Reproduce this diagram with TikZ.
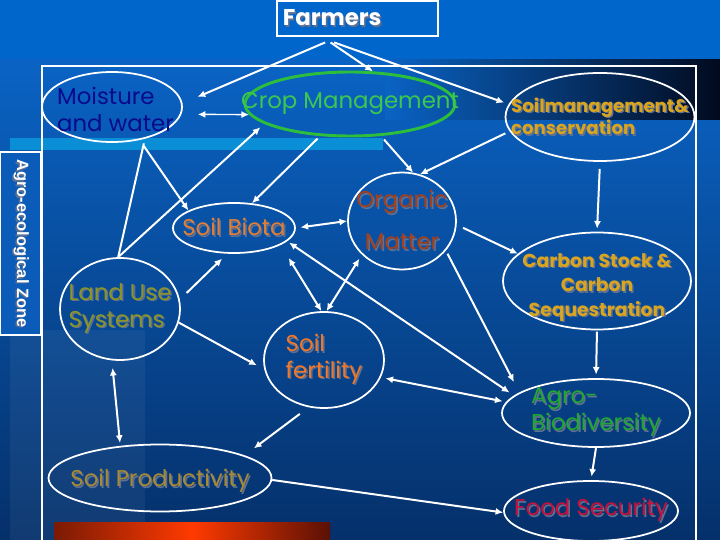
\documentclass[tikz,border=0pt]{standalone}
\usepackage{fontspec}
\usepackage{xcolor}
\usepackage{tikz}
\usetikzlibrary{arrows.meta,shapes.geometric}
\newfontfamily\comic{Poppins}
\newfontfamily\zonefont{Liberation Sans}
\definecolor{bgtop}{HTML}{0066CC}
\definecolor{bgmid}{HTML}{0A63C4}
\definecolor{bgbot}{HTML}{05306A}
\definecolor{bandc}{HTML}{020A1E}
\definecolor{strip}{HTML}{0A8ED6}
\definecolor{zonec}{HTML}{0B5BB8}
\definecolor{barl}{HTML}{7A1A05}
\definecolor{barm}{HTML}{FF3A00}
\definecolor{barr}{HTML}{5A1005}
\definecolor{moistc}{HTML}{0A0A8C}
\definecolor{cropc}{HTML}{2DBE3C}
\definecolor{croptc}{HTML}{3CC850}
\definecolor{goldc}{HTML}{D9A521}
\definecolor{biotac}{HTML}{E07E36}
\definecolor{orgc}{HTML}{A5401C}
\definecolor{landc}{HTML}{8C9628}
\definecolor{fertc}{HTML}{F07828}
\definecolor{agroc}{HTML}{22A832}
\definecolor{prodc}{HTML}{A68A34}
\definecolor{foodc}{HTML}{C8103C}
\definecolor{shade}{HTML}{5F7090}
\newcommand\sh[1]{\makebox[0pt][l]{\kern1.3pt\raisebox{-1.3pt}{\textcolor{shade}{#1}}}#1}

\begin{document}
\begin{tikzpicture}[x=0.03cm,y=-0.03cm,>={Latex[length=6.5pt,width=6pt]},
  el/.style={ellipse,draw=white,line width=1.5pt,inner sep=0pt},
  tx/.style={font=\comic\fontsize{19.5}{23}\selectfont},
  tb/.style={font=\comic\bfseries\fontsize{15.5}{19}\selectfont},
  ar/.style={white,line width=1.7pt}]
\useasboundingbox (0,0) rectangle (720,540);
\clip (0,0) rectangle (720,540);
\fill[bgtop] (0,0) rectangle (720,60);
\shade[top color=bgmid,bottom color=bgbot] (0,60) rectangle (720,540);
\shade[left color=bgmid,right color=bandc] (385,60) rectangle (720,120);
\fill[white,opacity=.05] (10,330) rectangle (145,540);
\fill[strip] (10,138) rectangle (383,150);
\shade[left color=barl,right color=barr,middle color=barm] (54,522) rectangle (330,545);
\draw[white,line width=1.3pt] (42,66) rectangle (696,560);
\node[draw=white,line width=1pt,fill=zonec,rotate=-90,minimum width=5.49cm,minimum height=1.23cm,
  text=white,font=\zonefont\bfseries\fontsize{14}{16}\selectfont] (zone) at (20.5,243.5) {\sh{Agro-ecological Zone}};
\node[draw=white,line width=1pt,minimum width=4.83cm,minimum height=1.05cm,inner xsep=5pt,text width=4.48cm,
  align=left,text=white,font=\comic\bfseries\fontsize{19.5}{22}\selectfont] (farm) at (357.5,18.5) {\sh{Farmers}};

\node[el,minimum width=4.2cm,minimum height=2.1cm,
  label={[tx,text=moistc,align=left,xshift=3pt,yshift=-2pt]center:{Moisture\\and water}}] (moist) at (112,107) {};
\node[el,draw=cropc,line width=2.5pt,minimum width=6.3cm,minimum height=1.92cm,
  label={[tx,text=croptc]center:{Crop Management}}] (crop) at (350,104) {};
\node[el,minimum width=5.67cm,minimum height=2.64cm,
  label={[tb,text=goldc,align=left]center:{\sh{Soilmanagement\&}\\\sh{conservation}}}] (soilm) at (600,117) {};
\node[el,minimum width=3.66cm,minimum height=1.5cm,
  label={[tx,text=biotac]center:{\sh{Soil Biota}}}] (biota) at (234,228) {};
\node[el,minimum width=3.24cm,minimum height=2.91cm,
  label={[font=\comic\fontsize{19.5}{36}\selectfont,text=orgc,align=center]center:{\sh{Organic}\\\sh{Matter}}}] (organic) at (402,221) {};
\node[el,minimum width=3.6cm,minimum height=3.06cm,
  label={[tx,text=landc,align=left]center:{\sh{Land Use}\\\sh{Systems}}}] (land) at (120,309) {};
\node[el,minimum width=3.6cm,minimum height=2.88cm,
  label={[tx,text=fertc,align=left]center:{\sh{Soil}\\\sh{fertility}}}] (fert) at (324,360) {};
\node[el,minimum width=5.64cm,minimum height=2.91cm,
  label={[tb,text=goldc,align=center,yshift=-6pt,font=\comic\bfseries\fontsize{16}{21}\selectfont]center:{\sh{Carbon Stock \&}\\\sh{Carbon}\\\sh{Sequestration}}}] (carbon) at (597,281) {};
\node[el,minimum width=5.64cm,minimum height=2.04cm,
  label={[tx,text=agroc,align=left]center:{\sh{Agro-}\\\sh{Biodiversity}}}] (agro) at (596,413) {};
\node[el,minimum width=6.69cm,minimum height=2.01cm,
  label={[tx,text=prodc,yshift=-3pt]center:{\sh{Soil Productivity}}}] (prod) at (160,478) {};
\node[el,minimum width=5.22cm,minimum height=1.8cm,
  label={[tx,text=foodc]center:{\sh{Food Security}}}] (food) at (591,511) {};

\draw[ar,->,shorten >=14pt] ([xshift=-27.6pt,yshift=-5pt]farm.south) -- (moist.3);
\draw[ar,->] ([xshift=-23pt,yshift=-5pt]farm.south) -- (crop.55);
\draw[ar,->,shorten >=4pt] ([xshift=-20pt,yshift=-5pt]farm.south) -- (soilm.172);
\draw[ar,<->,line width=1.2pt,shorten <=14pt] (moist.-6) -- (crop.186);
\draw[ar,shorten <=4pt] (moist.-44) -- (land.92);
\draw[ar,->,shorten <=6pt] (moist.-50) -- (biota.159);
\draw[ar,->,shorten >=4.4pt] (land.92) -- (crop.193);
\draw[ar,->,shorten <=3pt] (crop.227) -- (biota.54);
\draw[ar,->,shorten <=4pt] (crop.-46) -- (organic.77);
\draw[ar,->,shorten <=4pt] (soilm.189) -- (organic.69);
\draw[ar,->,shorten <=6pt,shorten >=2.5pt] (soilm.south) -- (carbon.north);
\draw[ar,<->,shorten <=4pt] (biota.east) -- (organic.west);
\draw[ar,->,shorten <=8pt,shorten >=6pt] (land.9) -- (biota.255);
\draw[ar,->,shorten >=7.3pt] (land.-13) -- (fert.189);
\draw[ar,<->,shorten >=13pt] (fert.93) -- (biota.-20);
\draw[ar,<->,shorten >=4pt] (fert.87) -- (organic.220);
\draw[ar,<->,shorten <=2pt,shorten >=4.5pt] (biota.-14) -- (agro.168);
\draw[ar,->,shorten <=3pt,shorten >=10pt] (organic.-34) -- (agro.165);
\draw[ar,->,shorten <=6pt] (organic.-4) -- (carbon.161);
\draw[ar,<->,shorten <=4pt,shorten >=3pt] (fert.-17) -- (agro.173);
\draw[ar,->,shorten <=9.4pt,shorten >=10pt] (fert.252) -- (prod.15);
\draw[ar,<->,shorten <=6.4pt,shorten >=2.5pt] (land.261) -- (prod.141);
\draw[ar,->] (prod.-1) -- (food.181);
\draw[ar,->,shorten <=1pt,shorten >=3pt] (carbon.south) -- (agro.north);
\draw[ar,->,shorten >=3pt] (agro.south) -- (food.north);
\end{tikzpicture}
\end{document}
